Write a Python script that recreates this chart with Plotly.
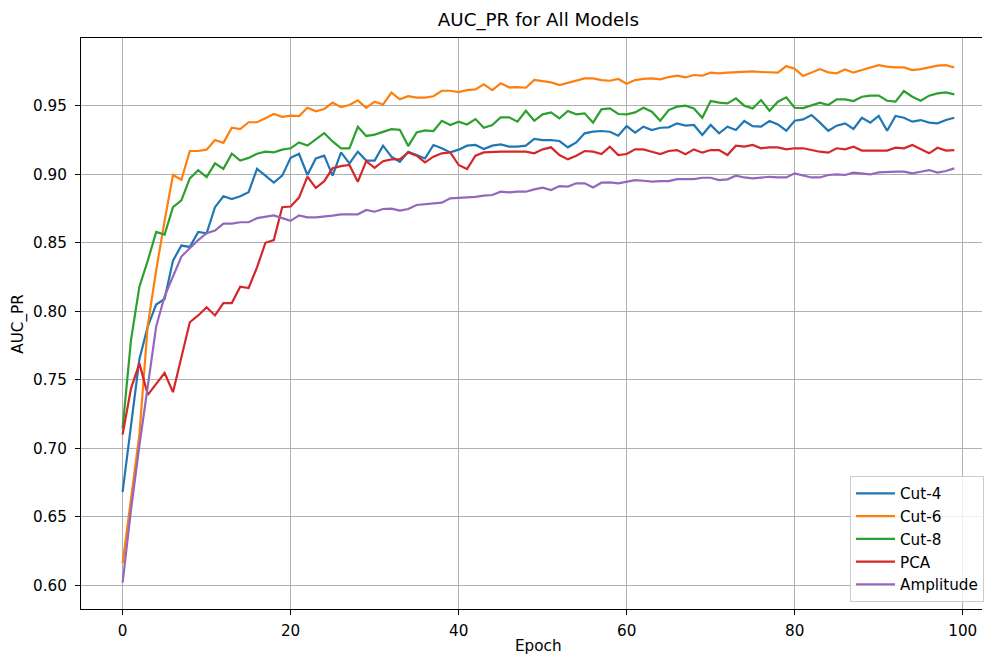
import plotly.graph_objects as go

epochs = list(range(100))

cut4 = [0.668, 0.717, 0.765, 0.789, 0.805, 0.809, 0.837, 0.848, 0.847, 0.858,
        0.857, 0.876, 0.884, 0.882, 0.884, 0.887, 0.904, 0.899, 0.894, 0.899,
        0.912, 0.915, 0.8995, 0.9116, 0.9136, 0.899, 0.916, 0.908, 0.9165, 0.910,
        0.910, 0.9209, 0.9129, 0.9092, 0.9165, 0.914, 0.9116, 0.9214, 0.919, 0.916,
        0.918, 0.9209, 0.9214, 0.9185, 0.9209, 0.9218, 0.9202, 0.9202, 0.9209, 0.9258,
        0.925, 0.925, 0.9243, 0.9197, 0.9233, 0.9299, 0.9311, 0.9316, 0.9311, 0.9282,
        0.9352, 0.9304, 0.9348, 0.9323, 0.934, 0.9343, 0.9372, 0.9355, 0.936, 0.9287,
        0.936, 0.9299, 0.9348, 0.9323, 0.9389, 0.9352, 0.9348, 0.9389, 0.9364, 0.9318,
        0.9391, 0.9401, 0.9433, 0.9377, 0.9318, 0.9355, 0.9372, 0.9331, 0.9413, 0.9377,
        0.9426, 0.9318, 0.9426, 0.9413, 0.9384, 0.9396, 0.9377, 0.9372, 0.9396, 0.9413]

cut6 = [0.616, 0.662, 0.710, 0.790, 0.830, 0.866, 0.8995, 0.896, 0.917, 0.917,
        0.918, 0.925, 0.923, 0.934, 0.933, 0.938, 0.938, 0.941, 0.944, 0.942,
        0.9428, 0.9425, 0.9486, 0.946, 0.9477, 0.9523, 0.949, 0.9506, 0.954, 0.9486,
        0.953, 0.951, 0.9596, 0.9547, 0.957, 0.956, 0.956, 0.957, 0.961, 0.961,
        0.960, 0.9615, 0.962, 0.9657, 0.9615, 0.9664, 0.9635, 0.9637, 0.9632, 0.9689,
        0.968, 0.9671, 0.9652, 0.9669, 0.9683, 0.970, 0.970, 0.9688, 0.9683, 0.9696,
        0.9661, 0.9688, 0.9696, 0.970, 0.9693, 0.971, 0.972, 0.9707, 0.9725, 0.972,
        0.9742, 0.9737, 0.9742, 0.9747, 0.9747, 0.9752, 0.9747, 0.9744, 0.9742, 0.979,
        0.977, 0.9717, 0.9744, 0.9768, 0.9744, 0.9737, 0.9766, 0.9742, 0.9761, 0.978,
        0.9797, 0.9786, 0.978, 0.978, 0.9761, 0.9768, 0.9778, 0.9793, 0.9797, 0.978]

cut8 = [0.7146, 0.779, 0.818, 0.837, 0.858, 0.856, 0.876, 0.881, 0.897, 0.903,
        0.898, 0.908, 0.904, 0.915, 0.910, 0.912, 0.915, 0.9165, 0.916, 0.918,
        0.919, 0.9233, 0.921, 0.9258, 0.930, 0.924, 0.919, 0.919, 0.9347, 0.928,
        0.929, 0.931, 0.933, 0.9325, 0.9206, 0.9306, 0.932, 0.9316, 0.939, 0.936,
        0.9384, 0.9364, 0.9403, 0.934, 0.936, 0.9416, 0.9416, 0.9384, 0.9464, 0.9391,
        0.9438, 0.9452, 0.9408, 0.9462, 0.9438, 0.9445, 0.9377, 0.9474, 0.9481, 0.944,
        0.9438, 0.9452, 0.9486, 0.9457, 0.9391, 0.9469, 0.9494, 0.9501, 0.9481, 0.9413,
        0.9535, 0.9523, 0.9518, 0.9554, 0.9501, 0.9481, 0.9542, 0.9464, 0.953, 0.9562,
        0.9486, 0.9483, 0.9501, 0.9523, 0.9506, 0.9547, 0.9547, 0.9535, 0.9566, 0.9574,
        0.9574, 0.9537, 0.953, 0.9608, 0.9566, 0.9537, 0.9574, 0.9591, 0.9598, 0.9584]

pca = [0.710, 0.7436, 0.762, 0.739, 0.747, 0.755, 0.741, 0.767, 0.792, 0.797,
       0.803, 0.797, 0.806, 0.806, 0.818, 0.817, 0.832, 0.850, 0.852, 0.876,
       0.8765, 0.883, 0.8983, 0.890, 0.895, 0.9044, 0.906, 0.9068, 0.8946, 0.9096,
       0.9047, 0.9096, 0.9109, 0.911, 0.916, 0.9136, 0.9087, 0.9129, 0.9153, 0.916,
       0.9068, 0.9039, 0.9136, 0.916, 0.9165, 0.9165, 0.9165, 0.9165, 0.9165, 0.9153,
       0.9182, 0.9197, 0.9141, 0.9109, 0.9136, 0.917, 0.9165, 0.9148, 0.9202, 0.9141,
       0.9148, 0.9182, 0.9182, 0.9165, 0.9148, 0.917, 0.9177, 0.9146, 0.9182, 0.9158,
       0.9177, 0.9177, 0.9141, 0.9209, 0.9202, 0.9214, 0.919, 0.9197, 0.9197, 0.9182,
       0.919, 0.919, 0.9177, 0.9165, 0.9158, 0.919, 0.9182, 0.9202, 0.9173, 0.9173,
       0.9173, 0.9173, 0.9194, 0.919, 0.9214, 0.9182, 0.9153, 0.9194, 0.9173, 0.9177]

amplitude = [0.602, 0.655, 0.702, 0.747, 0.789, 0.811, 0.825, 0.840, 0.846, 0.852,
             0.857, 0.859, 0.864, 0.864, 0.865, 0.865, 0.868, 0.869, 0.870, 0.868,
             0.866, 0.870, 0.8686, 0.8686, 0.869, 0.8698, 0.8708, 0.8708, 0.8708, 0.874,
             0.8727, 0.8747, 0.875, 0.8735, 0.8747, 0.8776, 0.878, 0.8786, 0.8793, 0.8825,
             0.8828, 0.883, 0.8836, 0.8844, 0.8849, 0.8873, 0.8868, 0.8873, 0.8873, 0.889,
             0.8902, 0.8885, 0.8914, 0.891, 0.8934, 0.8934, 0.8904, 0.8939, 0.8941, 0.8934,
             0.8946, 0.8958, 0.8953, 0.8946, 0.895, 0.895, 0.8965, 0.8965, 0.8965, 0.8975,
             0.8975, 0.8958, 0.8963, 0.899, 0.8977, 0.897, 0.8977, 0.8982, 0.8977, 0.8977,
             0.9007, 0.899, 0.8977, 0.8977, 0.8995, 0.8999, 0.8995, 0.9012, 0.9007, 0.8999,
             0.9014, 0.9019, 0.9019, 0.9019, 0.9007, 0.9019, 0.9031, 0.9012, 0.9024, 0.9043]

series_names = ["Cut-4", "Cut-6", "Cut-8", "PCA", "Amplitude"]
series_values = [cut4, cut6, cut8, pca, amplitude]
colors = ["#1f77b4", "#ff7f0e", "#2ca02c", "#d62728", "#9467bd"]

x_ticks = [0, 20, 40, 60, 80, 100]
y_ticks = [0.60, 0.65, 0.70, 0.75, 0.80, 0.85, 0.90, 0.95]

FONT = "DejaVu Sans"
FS = 15.2

fig = go.Figure()
for name, vals, col in zip(series_names, series_values, colors):
    fig.add_trace(go.Scatter(x=epochs, y=vals, mode="lines", name=name,
                             line=dict(color=col, width=2.2)))

axis_common = dict(showgrid=True, gridcolor="#b0b0b0", gridwidth=1.1,
                   showline=True, linecolor="#000000", linewidth=1.1,
                   ticks="outside", ticklen=5, tickcolor="#000000", tickwidth=1.1,
                   zeroline=False, tickfont=dict(size=FS, family=FONT, color="#000000"))

fig.update_layout(
    width=984, height=655,
    margin=dict(l=81, r=0, t=38, b=46, pad=0),
    paper_bgcolor="white", plot_bgcolor="white",
    font=dict(family=FONT, size=FS, color="#000000"),
    title=dict(text="AUC_PR for All Models", x=(539.4 - 81) / 903, xref="paper", xanchor="center",
               y=1 - 20 / 655, yref="container", yanchor="middle",
               font=dict(size=18.3, family=FONT, color="#000000")),
    showlegend=True,
    legend=dict(x=(852 - 81) / 903, y=(609 - 476) / 571, xanchor="left", yanchor="top",
                bgcolor="rgba(255,255,255,0.8)", bordercolor="#cccccc", borderwidth=1,
                font=dict(size=FS, family=FONT, color="#000000"),
                itemwidth=39, tracegroupgap=0),
    xaxis=dict(range=[-4.95, -4.95 + 903 / 8.42], tickvals=x_ticks,
               ticktext=[str(v) for v in x_ticks], mirror=True, ticklabelstandoff=3,
               **axis_common),
    yaxis=dict(range=[0.5827, 0.9995], tickvals=y_ticks,
               ticktext=[f"{v:.2f}" for v in y_ticks], mirror=False, ticklabelstandoff=5,
               **axis_common),
    annotations=[
        dict(text="Epoch", xref="paper", yref="paper", x=(539.4 - 81) / 903,
             y=(609 - 645.5) / 571, xanchor="center", yanchor="middle", showarrow=False,
             font=dict(size=FS, family=FONT, color="#000000")),
        dict(text="AUC_PR", xref="paper", yref="paper", x=(18 - 81) / 903, y=0.5,
             xanchor="center", yanchor="middle", textangle=-90, showarrow=False,
             font=dict(size=FS, family=FONT, color="#000000")),
    ],
)

fig.write_html("out.html", config={"displayModeBar": False},
               post_script="document.body.style.margin='0';document.body.style.overflow='hidden';")
